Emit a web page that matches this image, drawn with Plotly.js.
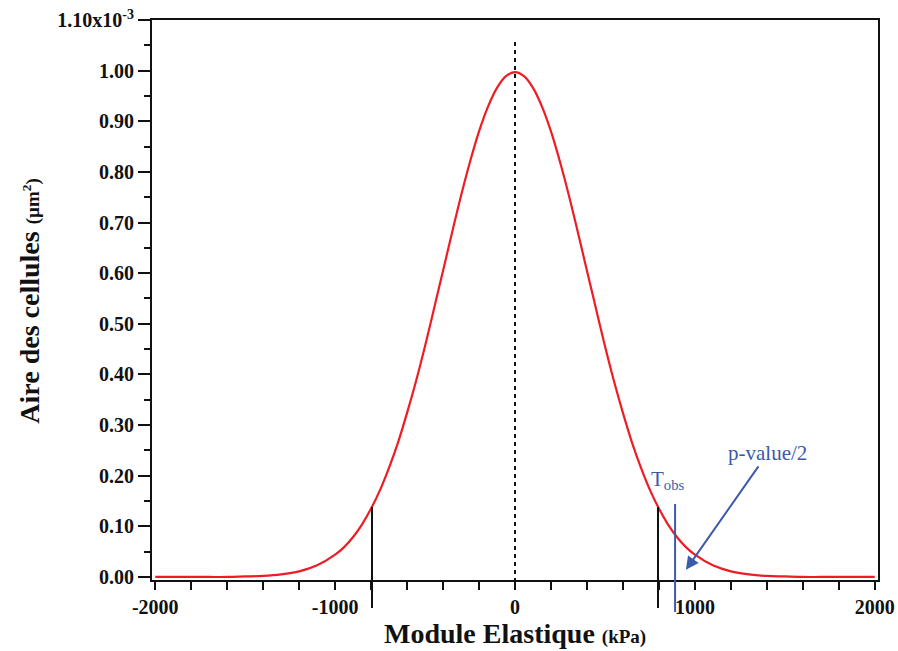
<!DOCTYPE html>
<html>
<head>
<meta charset="utf-8">
<script src="https://cdn.plot.ly/plotly-3.0.1.min.js"></script>
<style>html,body{margin:0;padding:0;background:#fff;}#chart{width:898px;height:651px;}</style>
</head>
<body>
<div id="chart"></div>
<script>
// Module Elastique (kPa)
var xVals = [-2000,-1900,-1800,-1700,-1600,-1500,-1400,-1300,-1200,-1100,-1000,-950,-900,-850,-800,-750,-700,-650,-600,-550,-500,-450,-400,-350,-300,-250,-200,-150,-100,-50,0,
             50,100,150,200,250,300,350,400,450,500,550,600,650,700,750,800,850,900,950,1000,1100,1200,1300,1400,1500,1600,1700,1800,1900,2000];
// Aire des cellules (x10^-3 µm²)
var yVals = [0.000,0.000,0.000,0.000,0.000,0.001,0.002,0.005,0.011,0.023,0.044,0.059,0.079,0.104,0.135,0.172,0.216,0.266,0.324,0.387,0.456,0.530,0.605,0.680,0.753,0.820,0.880,0.929,0.966,0.989,0.997,
             0.989,0.966,0.929,0.880,0.820,0.753,0.680,0.605,0.530,0.456,0.387,0.324,0.266,0.216,0.172,0.135,0.104,0.079,0.059,0.044,0.023,0.011,0.005,0.002,0.001,0.000,0.000,0.000,0.000,0.000];
// critical values and their heights
var critX = [-795, 795];
var critY = [0.138, 0.138];
// observed statistic
var tobsX = 890;
var tobsY = 0.144;
var meanX = 0;
var meanTop = 1.061;
var xTickVals = [-2000,-1000,0,1000,2000];
var xTickText = ['-2000','-1000','0','1000','2000'];
var yTickVals = [0,0.1,0.2,0.3,0.4,0.5,0.6,0.7,0.8,0.9,1.0,1.1];
var yTickText = ['0.00','0.10','0.20','0.30','0.40','0.50','0.60','0.70','0.80','0.90','1.00','1.10x10<sup>-3</sup>'];

var YMIN = -0.006, YMAX = 1.10;
function toPaper(v){ return (v - YMIN) / (YMAX - YMIN); }

var BLUE = '#3b5ba8';
var FONT = 'Liberation Serif, Times New Roman, serif';

var shapes = [];
critX.forEach(function(cx, i){
  shapes.push({type:'line', xref:'x', yref:'paper', x0:cx, x1:cx, y0:-0.05, y1:toPaper(critY[i]),
               line:{color:'#111', width:2}});
});
shapes.push({type:'line', xref:'x', yref:'paper', x0:tobsX, x1:tobsX, y0:-0.057, y1:toPaper(tobsY),
             line:{color:BLUE, width:2}});
shapes.push({type:'line', xref:'x', yref:'paper', x0:meanX, x1:meanX, y0:-0.018, y1:toPaper(meanTop),
             line:{color:'#111', width:2, dash:'4px,4px'}});

var trace = {
  x: xVals, y: yVals, type:'scatter', mode:'lines',
  line:{color:'#ee1c25', width:2.2, shape:'spline', smoothing:1},
  hoverinfo:'x+y'
};

var layout = {
  width:898, height:651,
  margin:{l:152, r:20, t:20, b:71},
  paper_bgcolor:'#fff', plot_bgcolor:'#fff',
  showlegend:false,
  font:{family:FONT, color:'#111'},
  xaxis:{
    range:[-2018, 2018], showgrid:false, zeroline:false,
    showline:true, linecolor:'#111', linewidth:2, mirror:true,
    ticks:'outside', ticklen:8, tickwidth:2, tickcolor:'#111',
    tickmode:'array', tickvals:xTickVals, ticktext:xTickText,
    tickfont:{family:FONT, size:20, color:'#111', weight:'bold'},
    minor:{ticks:'outside', dtick:200, tick0:0, ticklen:8, tickwidth:2, tickcolor:'#111'}
  },
  yaxis:{
    range:[YMIN, YMAX], showgrid:false, zeroline:false,
    showline:true, linecolor:'#111', linewidth:2, mirror:true,
    ticks:'outside', ticklen:12, tickwidth:2, tickcolor:'#111',
    tickmode:'array', tickvals:yTickVals, ticktext:yTickText,
    tickfont:{family:FONT, size:20, color:'#111', weight:'bold'},
    minor:{ticks:'outside', dtick:0.05, tick0:0, ticklen:6, tickwidth:2, tickcolor:'#111'}
  },
  shapes: shapes,
  annotations:[
    {xref:'paper', yref:'paper', x:0.5, y:-0.096, yanchor:'middle', xanchor:'center', showarrow:false,
     text:'<b>Module Elastique <span style="font-size:19px">(kPa)</span></b>',
     font:{family:FONT, size:28, color:'#111'}},
    {xref:'paper', yref:'paper', x:-0.168, y:0.497, xanchor:'center', yanchor:'middle', showarrow:false, textangle:-90,
     text:'<b>Aire des cellules <span style="font-size:19px">(µm<sup>2</sup>)</span></b>',
     font:{family:FONT, size:28, color:'#111'}},
    {xref:'x', yref:'y', x:850, y:0.192, showarrow:false,
     text:'T<sub>obs</sub>', font:{family:FONT, size:21, color:BLUE}},
    {xref:'x', yref:'y', x:950, y:0.014, ax:82, ay:-117, showarrow:true,
     arrowhead:2, arrowsize:1.3, arrowwidth:2, arrowcolor:BLUE, standoff:0,
     text:'p-value/2', font:{family:FONT, size:21, color:BLUE}}
  ]
};

Plotly.newPlot('chart', [trace], layout, {displayModeBar:false, staticPlot:true});
</script>
</body>
</html>
